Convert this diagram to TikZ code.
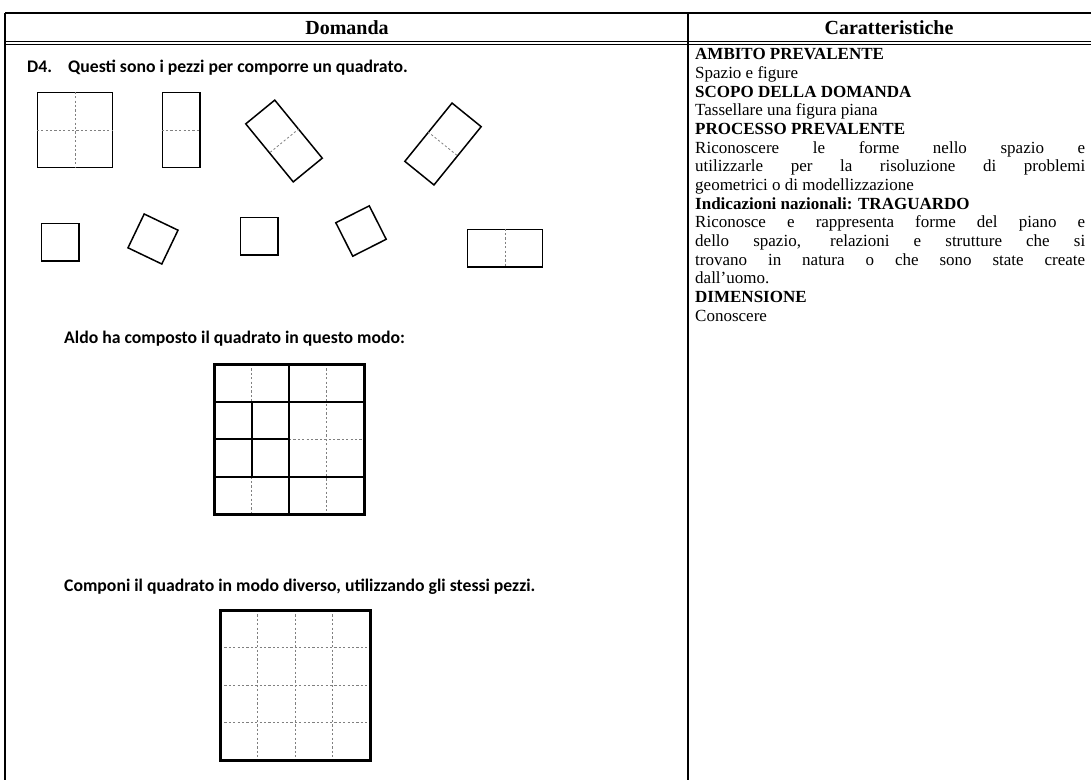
\documentclass[tikz,border=0pt]{standalone}
\usepackage{fontspec}
\setmainfont{Liberation Serif}
\newfontfamily\calibri{Carlito}

\begin{document}
\begin{tikzpicture}
  [x=1pt, y=-1pt,
   rule/.style={line width=1.1pt},
   piece/.style={draw, line width=1.5pt, inner sep=0pt},
   unitsq/.style={piece, minimum size=37.5},
   fold/.style={gray, line width=0.8pt, dash pattern=on 2.2pt off 2.2pt},
   cut/.style={line width=2pt},
   frame/.style={line width=3pt},
   head/.style={font=\bfseries\fontsize{20}{22}\selectfont},
   ask/.style={anchor=base west, inner sep=0pt, font=\calibri\bfseries\fontsize{17.7}{20}\selectfont}]
  \fill[white] (0,0) rectangle (1091,780);
  \useasboundingbox (0,0) rectangle (1091,780);

  \draw[rule] (5,13) -- (1091,13);
  \draw[rule] (5,41.5) -- (1091,41.5) (5,44.5) -- (1091,44.5);
  \draw[rule] (5,13) -- (5,780);
  \draw[rule] (688,13) -- (688,780);

  \node[head] (hdom) at (347,28) {Domanda};
  \node[head] (hcar) at (889,28) {Caratteristiche};

  \node[ask] (dnum) at (27,72) {D4.};
  \node[ask] (intro) at (68,72) {Questi sono i pezzi per comporre un quadrato.};

  \node[piece, minimum width=75, minimum height=75] (sqbig) at (75,130) {};
  \draw[fold] (sqbig.north) -- (sqbig.south) (sqbig.west) -- (sqbig.east);
  \node[piece, minimum width=37.5, minimum height=75] (recta) at (181,130) {};
  \draw[fold] (recta.west) -- (recta.east);
  \node[piece, minimum width=75, minimum height=37.5, rotate=-50.7] (rectb) at (284,141) {};
  \draw[fold] (rectb.north) -- (rectb.south);
  \node[piece, minimum width=75, minimum height=37.5, rotate=51] (rectc) at (443,144) {};
  \draw[fold] (rectc.north) -- (rectc.south);

  \node[unitsq] (sqa) at (60,242) {};
  \node[unitsq, rotate=-25.6] (sqb) at (153,239) {};
  \node[unitsq] (sqc) at (259,236) {};
  \node[unitsq, rotate=26.8] (sqd) at (361,231) {};
  \node[piece, minimum width=75, minimum height=37.5] (rectd) at (505,248) {};
  \draw[fold] (rectd.north) -- (rectd.south);

  \node[ask] (aldo) at (64,343) {Aldo ha composto il quadrato in questo modo:};

  \begin{scope}[shift={(214,364)}, x=37.5pt, y=-37.5pt]
    \foreach \r in {0,3}
      \draw[fold] (1,\r) -- ++(0,1);
    \draw[fold] (3,0) -- (3,4) (2,2) -- (4,2);
    \draw[cut] (2,0) -- (2,4) (1,1) -- (1,3) (0,1) -- (4,1) (0,2) -- (2,2) (0,3) -- (4,3);
    \draw[frame] (0,0) rectangle (4,4);
  \end{scope}

  \node[ask] (task) at (64,591) {Componi il quadrato in modo diverso, utilizzando gli stessi pezzi.};

  \begin{scope}[shift={(220,610)}, x=37.5pt, y=-37.5pt]
    \foreach \i in {1,2,3}
      \draw[fold] (\i,0) -- (\i,4) (0,\i) -- (4,\i);
    \draw[frame] (0,0) rectangle (4,4);
  \end{scope}

  \node[anchor=north west, text width=390pt, align=justify, inner sep=0pt,
        font=\fontsize{17}{18.65}\selectfont] (feat) at (695,48.5)
   {\tolerance=10000 \hbadness=10000 \hyphenpenalty=10000
    \textbf{AMBITO PREVALENTE}\\
    Spazio e figure\\
    \textbf{SCOPO DELLA DOMANDA}\\
    Tassellare una figura piana\\
    \textbf{PROCESSO PREVALENTE}\\
    Riconoscere le forme nello spazio e \linebreak
    utilizzarle per la risoluzione di problemi \linebreak
    geometrici o di modellizzazione\\
    \textbf{Indicazioni nazionali: TRAGUARDO}\\
    Riconosce e rappresenta forme del piano e \linebreak
    dello spazio, relazioni e strutture che si \linebreak
    trovano in natura o che sono state create \linebreak
    dall’uomo.\\
    \textbf{DIMENSIONE}\\
    Conoscere};
\end{tikzpicture}
\end{document}
